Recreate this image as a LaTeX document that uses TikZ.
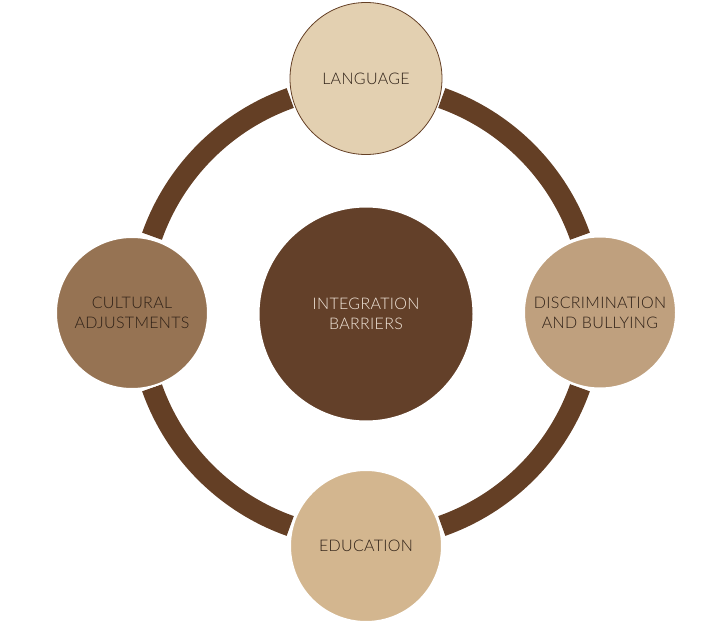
\documentclass[tikz,border=0pt]{standalone}
\usepackage{fontspec}
\setmainfont{Lato}[UprightFont=* Light,BoldFont=*,LetterSpace=2]
\definecolor{ringbrown}{HTML}{643F25}
\definecolor{hubbrown}{HTML}{634029}
\definecolor{langbeige}{HTML}{E3D0B1}
\definecolor{cultbrown}{HTML}{967353}
\definecolor{discrtan}{HTML}{BFA07E}
\definecolor{edutan}{HTML}{D3B68F}
\definecolor{textbrown}{HTML}{2E2016}
\definecolor{hubtext}{HTML}{F3E8DC}

\begin{document}
\begin{tikzpicture}[x=1pt,y=1pt,
    topic/.style={circle,minimum size=152pt,inner sep=0pt,draw=white,line width=2pt,
      text=textbrown,align=center,font=\fontsize{16}{20}\selectfont},
    ring/.style={draw=ringbrown,line width=21pt}]
  \useasboundingbox (0,0) rectangle (701,622);
  \coordinate (hub) at (366,310); % centre of the ring
  \foreach \a in {0,90,180,270}
    \draw[ring] (hub) ++(\a+19.5:227pt) arc[start angle=\a+19.5, end angle=\a+70.5, radius=227pt]; % ring pieces
  \node[topic,fill=hubbrown,minimum size=215pt,text=hubtext] (barriers) at (366,308) {INTEGRATION\\BARRIERS}; % middle
  \node[topic,fill=langbeige,draw=ringbrown,line width=0.8pt] (lang) at (366,543.5) {LANGUAGE}; % top
  \node[topic,fill=discrtan] (discr) at (600,309.5) {DISCRIMINATION\\AND BULLYING}; % right
  \node[topic,fill=edutan] (edu) at (366,76) {EDUCATION}; % bottom
  \node[topic,fill=cultbrown] (cult) at (132,309) {CULTURAL\\ADJUSTMENTS}; % left
\end{tikzpicture}
\end{document}
